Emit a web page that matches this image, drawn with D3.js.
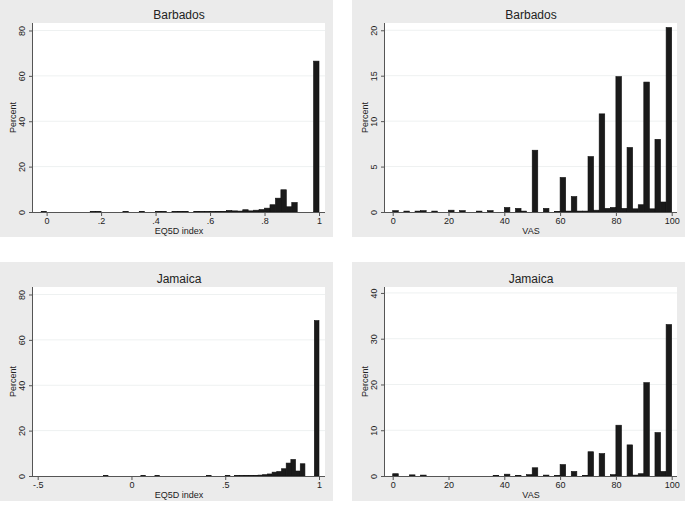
<!DOCTYPE html>
<html>
<head>
<meta charset="utf-8">
<script src="https://cdn.jsdelivr.net/npm/d3@7"></script>
<style>
  body { margin: 0; background: #fff; }
  text { font-family: "Liberation Sans", Arial, sans-serif; fill: #222; }
</style>
</head>
<body>
<script>
var w = 685;
var h = 509;

// EQ5D index, Barbados (bin start, width .02)
var eqBarbStart = [-0.02, 0.16, 0.18, 0.28, 0.34, 0.40, 0.42, 0.46, 0.48, 0.50, 0.54, 0.56, 0.58, 0.60, 0.62, 0.64,
   0.66, 0.68, 0.70, 0.72, 0.74, 0.76, 0.78, 0.80, 0.82, 0.84, 0.86, 0.88, 0.90, 0.98];
var eqBarbPct = [0.2, 0.2, 0.2, 0.2, 0.2, 0.2, 0.2, 0.2, 0.3, 0.3, 0.3, 0.2, 0.2, 0.2, 0.3, 0.3,
   0.7, 0.5, 0.4, 1.0, 0.5, 0.8, 1.1, 1.7, 3.2, 6.1, 9.8, 2.3, 4.2, 66.5];

// EQ5D index, Jamaica (bin start, width .025)
var eqJamStart = [-0.150, 0.050, 0.125, 0.400, 0.500, 0.550, 0.575, 0.600, 0.625, 0.650, 0.675, 0.700, 0.725,
   0.750, 0.775, 0.800, 0.825, 0.850, 0.875, 0.900, 0.975];
var eqJamPct = [0.2, 0.2, 0.2, 0.2, 0.2, 0.2, 0.2, 0.3, 0.3, 0.3, 0.4, 0.6, 0.9,
   1.7, 2.0, 3.2, 5.7, 7.3, 2.2, 5.4, 68.5];

// VAS, Barbados (bin start, width 2)
var vasBarbStart = [0, 4, 8, 10, 14, 20, 24, 30, 34, 40, 44, 46, 50, 54, 58, 60, 62, 64, 66, 68, 70, 72, 74, 76, 78,
   80, 82, 84, 86, 88, 90, 92, 94, 96, 98];
var vasBarbPct = [0.15, 0.1, 0.1, 0.15, 0.1, 0.2, 0.15, 0.1, 0.15, 0.5, 0.4, 0.1, 6.8, 0.4, 0.05, 3.8, 0.1, 1.7, 0.1, 0.1,
   6.1, 0.2, 10.8, 0.4, 0.5, 14.9, 0.4, 7.1, 0.35, 0.8, 14.3, 0.35, 8.0, 1.1, 20.3];

// VAS, Jamaica (bin start, width 2)
var vasJamStart = [0, 6, 10, 36, 40, 44, 48, 50, 54, 58, 60, 64, 68, 70, 74, 78, 80, 84, 86, 88, 90, 94, 96, 98];
var vasJamPct = [0.5, 0.25, 0.2, 0.15, 0.4, 0.15, 0.3, 1.8, 0.2, 0.1, 2.5, 1.0, 0.15, 5.3, 4.9, 0.3, 11.1, 6.8, 0.2,
   0.5, 20.4, 9.5, 1.0, 33.1];

var eqBarbTicks = [0, 0.2, 0.4, 0.6, 0.8, 1];
var eqBarbTickLabels = ["0", ".2", ".4", ".6", ".8", "1"];
var eqJamTicks = [-0.5, 0, 0.5, 1];
var eqJamTickLabels = ["-.5", "0", ".5", "1"];
var vasTicks = [0, 20, 40, 60, 80, 100];
var pctTicks80 = [0, 20, 40, 60, 80];
var pctTicks20 = [0, 5, 10, 15, 20];
var pctTicks40 = [0, 10, 20, 30, 40];

function zip(starts, vals) {
   return starts.map(function(s, i) { return { x0: s, v: vals[i] }; });
}

var panels = [
   { title: "Barbados", xTitle: "EQ5D index", bins: zip(eqBarbStart, eqBarbPct), bw: 0.02,
     xDom: [-0.05, 1.022], xTicks: eqBarbTicks, xLabels: eqBarbTickLabels, yDom: [0, 83.3], yTicks: pctTicks80,
     px: 0, py: -2 },
   { title: "Barbados", xTitle: "VAS", bins: zip(vasBarbStart, vasBarbPct), bw: 2,
     xDom: [-2.76, 101.9], xTicks: vasTicks, xLabels: vasTicks.map(String), yDom: [0, 20.8], yTicks: pctTicks20,
     px: 352, py: -2 },
   { title: "Jamaica", xTitle: "EQ5D index", bins: zip(eqJamStart, eqJamPct), bw: 0.025,
     xDom: [-0.525, 1.032], xTicks: eqJamTicks, xLabels: eqJamTickLabels, yDom: [0, 83.3], yTicks: pctTicks80,
     px: 0, py: 262 },
   { title: "Jamaica", xTitle: "VAS", bins: zip(vasJamStart, vasJamPct), bw: 2,
     xDom: [-2.76, 101.9], xTicks: vasTicks, xLabels: vasTicks.map(String), yDom: [0, 41.3], yTicks: pctTicks40,
     px: 352, py: 262 }
];

var svg = d3.select('body')
   .append('svg')
   .attr('width', w)
   .attr('height', h);

// panel geometry, relative to panel corner
var pw = 333, ph = 239;
var mLeft = 33, mRight = 325, mTop = 25, mBottom = 214;

panels.forEach(function(p) {
   var g = svg.append('g').attr('transform', 'translate(' + p.px + ',' + p.py + ')');

   g.append('rect')
      .attr('width', pw)
      .attr('height', ph)
      .attr('fill', '#ebebeb');

   g.append('rect')
      .attr('x', mLeft)
      .attr('y', mTop)
      .attr('width', mRight - mLeft)
      .attr('height', mBottom - mTop)
      .attr('fill', '#ffffff');

   var x = d3.scaleLinear().domain(p.xDom).range([mLeft, mRight]);
   var y = d3.scaleLinear().domain(p.yDom).range([mBottom, mTop]);

   // faint gridlines
   g.selectAll('line.grid')
      .data(p.yTicks.slice(1))
      .enter()
      .append('line')
      .attr('class', 'grid')
      .attr('x1', mLeft)
      .attr('x2', mRight)
      .attr('y1', function(d) { return y(d); })
      .attr('y2', function(d) { return y(d); })
      .attr('stroke', '#eef1f1')
      .attr('stroke-width', 1);

   // bars
   g.selectAll('rect.bar')
      .data(p.bins)
      .enter()
      .append('rect')
      .attr('class', 'bar')
      .attr('x', function(d) { return x(d.x0); })
      .attr('width', function(d) { return x(d.x0 + p.bw) - x(d.x0); })
      .attr('y', function(d) { return y(d.v); })
      .attr('height', function(d) { return y(0) - y(d.v); })
      .attr('fill', '#1a1a1a')
      .attr('stroke', '#111')
      .attr('stroke-width', 0.6);

   var xAxis = d3.axisBottom(x)
      .tickValues(p.xTicks)
      .tickFormat(function(d, i) { return p.xLabels[i]; })
      .tickSize(4)
      .tickPadding(2);
   var gx = g.append('g')
      .attr('transform', 'translate(0,' + mBottom + ')')
      .call(xAxis);
   gx.select('.domain').attr('stroke', '#555').attr('d', 'M' + mLeft + ',0.5H' + mRight);
   gx.selectAll('.tick line').attr('stroke', '#555');
   gx.selectAll('.tick text').attr('font-size', 9).attr('fill', '#222');

   var yAxis = d3.axisLeft(y)
      .tickValues(p.yTicks)
      .tickSize(4)
      .tickFormat(d3.format('d'));
   var gy = g.append('g')
      .attr('transform', 'translate(' + mLeft + ',0)')
      .call(yAxis);
   gy.select('.domain').attr('stroke', '#555').attr('d', 'M-0.5,' + mTop + 'V' + mBottom);
   gy.selectAll('.tick line').attr('stroke', '#555');
   gy.selectAll('.tick text')
      .attr('font-size', 9)
      .attr('fill', '#222')
      .attr('x', null)
      .attr('dy', null)
      .attr('text-anchor', 'middle')
      .attr('transform', 'translate(-8,0) rotate(-90)');

   g.append('text')
      .attr('x', (mLeft + mRight) / 2)
      .attr('y', 21)
      .attr('text-anchor', 'middle')
      .attr('font-size', 12)
      .text(p.title);

   g.append('text')
      .attr('x', (mLeft + mRight) / 2)
      .attr('y', 236)
      .attr('text-anchor', 'middle')
      .attr('font-size', 9)
      .text(p.xTitle);

   g.append('text')
      .attr('transform', 'translate(16,' + (mTop + mBottom) / 2 + ') rotate(-90)')
      .attr('text-anchor', 'middle')
      .attr('font-size', 9)
      .text('Percent');
});
</script>
</body>
</html>
